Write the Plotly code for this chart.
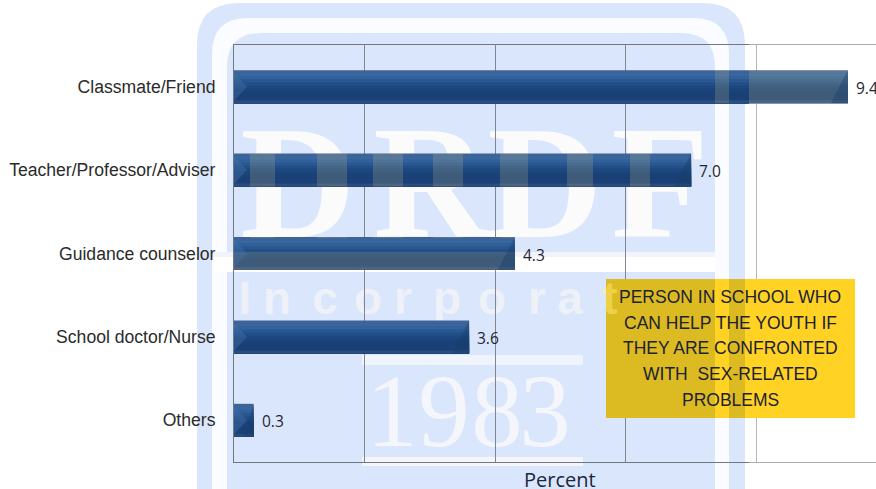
import plotly.graph_objects as go

categories = ["Classmate/Friend", "Teacher/Professor/Adviser", "Guidance counselor", "School doctor/Nurse", "Others"]
values = [9.4, 7.0, 4.3, 3.6, 0.3]
value_labels = ["9.4", "7.0", "4.3", "3.6", "0.3"]
box_lines = ["PERSON IN SCHOOL WHO", "CAN HELP THE YOUTH IF", "THEY ARE CONFRONTED",
             "WITH\u00a0\u00a0SEX-RELATED", "PROBLEMS"]
axis_title = "Percent"
mark_letters = ["D", "R", "D", "F"]
mark_word = list("Incorporat")
mark_year = "1983"

W, H = 876, 489
L, R, T, B = 234, 876, 45, 462
PXU = 65.3
PXC = 83.4
XMAX = (R - L) / PXU
HALF = 16.5 / PXC

PANEL = "#dae6fb"
BAR_STRIPS = ["#3d6397", "#38669f", "#31609a", "#295890", "#224f87", "#1d487f", "#1a437a", "#1a4177", "#1a4076", "#1b4077", "#2a4d80"]
WASH = "rgba(195,185,135,0.22)"


def fx(p):
    return (p - L) / (R - L)


def fy(p):
    return (B - p) / (B - T)


def rpath(x0, y0, x1, y1, r):
    X0, X1, Y0, Y1 = fx(x0), fx(x1), fy(y0), fy(y1)
    rx = r / (R - L)
    ry = r / (B - T)
    return (f"M{X0},{Y1} L{X0},{Y0 - ry} Q{X0},{Y0} {X0 + rx},{Y0} L{X1 - rx},{Y0} "
            f"Q{X1},{Y0} {X1},{Y0 - ry} L{X1},{Y1} Z")


def prect(x0, y0, x1, y1, fill, layer="below", **kw):
    return dict(type="rect", xref="paper", yref="paper", x0=fx(x0), x1=fx(x1), y0=fy(y1), y1=fy(y0),
                fillcolor=fill, line_width=0, layer=layer, **kw)


def glyph(text, cx, cy, size, family, color, layer, bold=False):
    return dict(type="rect", xref="paper", yref="paper",
                x0=fx(cx - 60), x1=fx(cx + 60), y0=fy(cy + 60), y1=fy(cy - 60),
                fillcolor="rgba(0,0,0,0)", line_width=0, layer=layer,
                label=dict(text=f"<b>{text}</b>" if bold else text, textposition="middle center",
                           font=dict(size=size, family=family, color=color), padding=0))


shapes = []
for x0, y0, x1, y1, r, c in [(197, 3, 745, 489, 42, PANEL), (212, 18, 729, 489, 36, "#fbfcff"), (227, 33, 715, 489, 34, PANEL)]:
    shapes.append(dict(type="path", xref="paper", yref="paper", path=rpath(x0, y0, x1, y1, r),
                       fillcolor=c, line_width=0, layer="below"))
shapes += [
    prect(212, 252, 715, 257, "#f1f4fb"),
    prect(212, 257, 715, 272, "#ffffff"),
    prect(362, 355, 583, 365, "#f0f4fc"),
    prect(362, 457, 583, 466, "#f4f6fc"),
]

big_pos = [(298, 166), (431, 166), (545, 166), (660, 166)]
word_pos = [245, 277, 325, 368, 403, 447, 492, 537, 570, 610]
year_pos = [392, 444, 497, 545]
for t, (cx, cy) in zip(mark_letters, big_pos):
    shapes.append(glyph(t, cx, cy, 160, "Liberation Serif", "#fbfbfc", "below", True))
for t, cx in zip(mark_word, word_pos):
    shapes.append(glyph(t, cx, 294, 46, "Liberation Sans", "#eef1f7", "below", True))
for t, cx in zip(mark_year, year_pos):
    shapes.append(glyph(t, cx, 400, 103, "Liberation Serif", "#f4f6fb", "below"))

# washed-out parts of the bars, limited to each bar's own extent
bands = [(715, 729, 0, 999), (749, 999, 0, 999), (227, 999, 252, 272),
         # strokes of the big letters where they cross the bars
         (250, 275, 127, 238), (317, 347, 127, 238), (373, 403, 127, 238), (433, 463, 127, 238),
         (500, 528, 127, 238), (567, 593, 127, 238), (630, 650, 127, 238)]
for i, v in enumerate(values):
    top = T + (i + 0.5) * PXC - 16.5
    bot = top + 33
    end = L + v * PXU
    for bx0, bx1, by0, by1 in bands:
        a, b, c, d = max(bx0, L), min(bx1, end), max(by0, top), min(by1, bot)
        if a < b and c < d:
            shapes.append(prect(a, c, b, d, WASH, "above"))

# bevel facets of the bars, from the values
for i, v in enumerate(values):
    t, b = i - HALF, i + HALF
    shapes.append(dict(type="path", xref="x", yref="y",
                       path=f"M0,{t + 0.03} L{13 / PXU},{i} L0,{b - 0.03} Z",
                       fillcolor="rgba(70,115,170,0.4)", line_width=0, layer="above"))
    dx = min(17 / PXU, v * 0.5)
    shapes.append(dict(type="path", xref="x", yref="y",
                       path=f"M{v},{t} L{v},{b} L{v - dx},{b} Z",
                       fillcolor="rgba(25,60,105,0.4)", line_width=0, layer="above"))

# faded grid and frame right of the mark
shapes += [prect(749, 43, 876, 70, "rgba(255,255,255,0.4)", "above"),
           prect(749, 103, 876, 464, "rgba(255,255,255,0.4)", "above")]

# yellow box
shapes += [prect(606, 279, 855, 418, "#ffd224", "above"),
           prect(606, 279, 715, 418, "#dcba22", "above"),
           prect(729, 279, 745, 418, "#dcba22", "above"),
           glyph("t", 610, 294, 46, "Liberation Sans", "rgba(255,235,110,0.5)", "above", True)]

fig = go.Figure()
n = len(BAR_STRIPS)
h = 2 * HALF / n
# each strip runs from its own top edge to the bar's bottom, later strips paint over earlier ones
for k, col in enumerate(BAR_STRIPS):
    fig.add_trace(go.Bar(x=values, y=list(range(len(values))), orientation="h",
                         width=(n - k) * h, offset=-HALF + k * h,
                         marker=dict(color=col, line_width=0), showlegend=False, hoverinfo="skip"))

annotations = []
for i, (v, s) in enumerate(zip(values, value_labels)):
    annotations.append(dict(x=v, y=i, xref="x", yref="y", text=s, showarrow=False, xanchor="left", yanchor="middle",
                            xshift=6, yshift=-1, font=dict(family="Open Sans", size=15.5, color="#1f2733")))
for k, line in enumerate(box_lines):
    annotations.append(dict(x=fx(730), y=fy(297 + k * 25.7), xref="paper", yref="paper", text=line, showarrow=False,
                            xanchor="center", yanchor="middle",
                            font=dict(family="Liberation Sans", size=17.5, color="#1c2230")))
annotations.append(dict(x=fx(560), y=fy(479), xref="paper", yref="paper", text=axis_title, showarrow=False,
                        xanchor="center", yanchor="middle",
                        font=dict(family="Open Sans", size=20, color="#1c2740")))

fig.update_layout(
    width=W, height=H, margin=dict(l=L, r=0, t=T, b=H - B), autosize=False,
    barmode="overlay", paper_bgcolor="white", plot_bgcolor="rgba(0,0,0,0)",
    shapes=shapes, annotations=annotations, showlegend=False,
    xaxis=dict(range=[0, XMAX], dtick=2, tick0=0, showticklabels=False, ticks="", showgrid=True,
               gridcolor="#80858f", gridwidth=1, zeroline=False, showline=True, linecolor="#72767e",
               linewidth=1, mirror=True, fixedrange=True),
    yaxis=dict(range=[len(values) - 0.5, -0.5], tickmode="array", tickvals=list(range(len(values))), ticktext=categories,
               ticks="outside", ticklen=14, tickcolor="rgba(0,0,0,0)", showgrid=False, zeroline=False,
               showline=True, linecolor="#72767e", linewidth=1, fixedrange=True,
               tickfont=dict(family="Liberation Sans", size=17.6, color="#2b2b2b")),
)
fig.write_html("out.html", config={"displayModeBar": False},
               post_script="document.body.style.margin='0';document.documentElement.style.overflow='hidden';")
